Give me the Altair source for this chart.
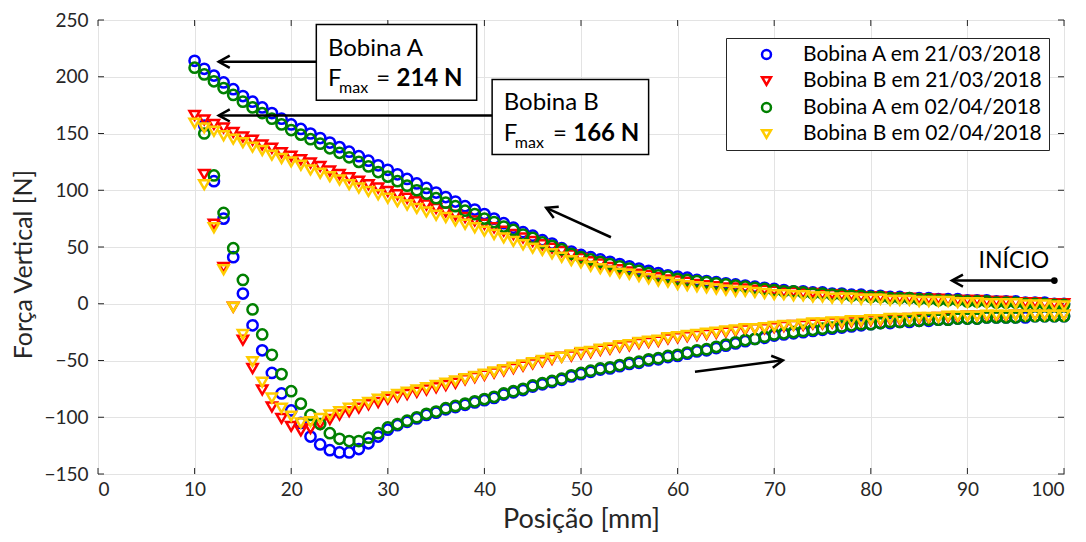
import altair as alt
import pandas as pd

# ---------------- data ----------------
series_names = ["Bobina A em 21/03/2018", "Bobina B em 21/03/2018",
                "Bobina A em 02/04/2018", "Bobina B em 02/04/2018"]
series_colors = ["#0000ff", "#ff0000", "#008000", "#ffcc00"]
series_shapes = ["circle", "triangle-down", "circle", "triangle-down"]

pos_up = list(range(10, 101))    # upper branch, travelled from 100 mm down to 10 mm
pos_low = list(range(11, 101))   # lower branch, travelled from 11 mm back to 100 mm

a1_up = [214, 207, 201, 195, 189, 183, 178, 173, 168, 163, 158,
         154, 150, 146, 142, 138, 134, 130, 126, 122, 118,
         114, 110, 106, 102, 98, 94, 90, 86, 83, 79,
         75, 71, 67, 63, 60, 56, 53, 49, 46, 43,
         41, 39, 37, 35, 33, 31, 29, 27, 25, 24,
         23, 21, 20, 19, 18, 17, 16, 15, 14, 13,
         12, 11, 11, 10, 10, 9, 9, 8, 8, 7,
         7, 6, 6, 5, 5, 5, 4, 4, 4, 3,
         3, 3, 2, 2, 2, 1, 1, 1, 0, 0]
a1_low = [157, 108, 75, 41, 9, -19, -41, -61, -79, -94,
          -105, -117, -124, -129, -131, -131, -128, -123, -117, -111,
          -107, -104, -101, -98, -96, -93, -91, -89, -87, -85,
          -83, -80, -78, -76, -73, -71, -69, -67, -64, -62,
          -60, -58, -57, -55, -53, -52, -50, -49, -47, -46,
          -44, -42, -41, -39, -37, -35, -33, -31, -30, -28,
          -27, -26, -25, -24, -23, -22, -21, -20, -19, -18,
          -17, -17, -16, -16, -15, -15, -14, -14, -13, -13,
          -13, -12, -12, -12, -12, -12, -11, -11, -11, -11]

b1_up = [166, 162, 158, 155, 151, 147, 144, 140, 137, 133, 130,
         127, 124, 121, 117, 114, 111, 108, 105, 102, 99,
         96, 93, 90, 87, 84, 81, 78, 76, 73, 70,
         67, 64, 61, 58, 55, 52, 49, 46, 43, 40,
         37, 35, 32, 30, 28, 26, 25, 23, 21, 20,
         19, 17, 16, 15, 14, 14, 13, 12, 12, 11,
         10, 10, 9, 9, 8, 8, 7, 7, 6, 6,
         6, 5, 5, 5, 4, 4, 4, 3, 3, 3,
         3, 2, 2, 2, 1, 1, 1, 0, 0, 0]
b1_low = [114, 70, 32, -3, -32, -57, -76, -91, -101, -108,
          -112, -110, -106, -102, -98, -95, -92, -89, -87, -84,
          -82, -80, -78, -76, -74, -72, -70, -67, -65, -63,
          -61, -59, -57, -55, -53, -51, -49, -47, -46, -44,
          -43, -41, -40, -38, -37, -35, -34, -33, -31, -30,
          -29, -28, -27, -26, -25, -24, -23, -22, -22, -21,
          -20, -19, -19, -18, -18, -17, -17, -16, -16, -15,
          -15, -14, -14, -13, -13, -13, -12, -12, -12, -11,
          -11, -11, -11, -11, -10, -10, -10, -10, -10, -10]

a2_up = [208, 202, 196, 190, 184, 178, 173, 168, 163, 158, 153,
         149, 145, 141, 137, 133, 129, 125, 121, 116, 112,
         108, 104, 100, 97, 93, 89, 86, 82, 79, 75,
         72, 68, 65, 61, 58, 54, 51, 48, 44, 41,
         39, 37, 35, 33, 31, 29, 27, 25, 24, 22,
         21, 20, 19, 18, 17, 16, 15, 14, 13, 12,
         11, 11, 10, 9, 9, 8, 8, 7, 7, 6,
         6, 5, 5, 5, 4, 4, 3, 3, 3, 2,
         2, 2, 1, 1, 1, 0, 0, 0, -1, -1]
a2_low = [150, 113, 80, 49, 21, -5, -27, -45, -62, -77,
          -88, -98, -106, -114, -119, -121, -121, -118, -114, -109,
          -106, -103, -100, -97, -95, -92, -90, -88, -86, -84,
          -82, -79, -77, -75, -72, -70, -68, -66, -63, -61,
          -59, -57, -56, -54, -52, -51, -49, -48, -46, -45,
          -43, -41, -40, -38, -36, -34, -32, -31, -29, -27,
          -26, -25, -24, -23, -22, -21, -20, -19, -18, -18,
          -17, -16, -16, -15, -15, -14, -14, -14, -13, -13,
          -13, -12, -12, -12, -12, -11, -11, -11, -11, -11]

b2_up = [159, 155, 152, 148, 145, 142, 138, 135, 131, 128, 125,
         122, 118, 115, 112, 109, 105, 102, 99, 96, 93,
         90, 87, 84, 81, 78, 76, 73, 70, 67, 64,
         61, 58, 55, 52, 49, 47, 44, 41, 38, 36,
         33, 31, 29, 27, 26, 24, 22, 20, 19, 17,
         16, 15, 14, 13, 12, 11, 11, 10, 9, 8,
         8, 7, 7, 6, 6, 5, 5, 5, 4, 4,
         4, 3, 3, 3, 2, 2, 2, 2, 1, 1,
         1, 0, 0, 0, 0, -1, -1, -1, -2, -2]
b2_low = [105, 67, 30, -3, -27, -51, -69, -83, -92, -99,
          -105, -104, -101, -98, -95, -92, -89, -87, -84, -82,
          -80, -78, -76, -74, -72, -70, -68, -66, -64, -62,
          -60, -58, -56, -54, -52, -50, -48, -47, -45, -43,
          -42, -40, -39, -37, -36, -34, -33, -32, -30, -29,
          -28, -27, -26, -25, -24, -23, -22, -22, -21, -20,
          -19, -19, -18, -17, -17, -16, -16, -15, -15, -14,
          -14, -13, -13, -13, -12, -12, -12, -11, -11, -11,
          -11, -10, -10, -10, -10, -10, -10, -10, -10, -10]

x_ticks = [0, 10, 20, 30, 40, 50, 60, 70, 80, 90, 100]
y_ticks = [-150, -100, -50, 0, 50, 100, 150, 200, 250]

# annotation boxes (data coordinates)
box_x1 = [22.6, 40.8]
box_x2 = [39.2, 57.0]
box_y1 = [246.0, 197.5]
box_y2 = [179.3, 131.5]

# arrows: tail -> tip
arr_x1 = [22.6, 40.8, 53.1, 61.8, 99.0]
arr_y1 = [213.2, 165.9, 58.6, -60.0, 20.4]
arr_x2 = [12.5, 12.5, 46.4, 70.9, 88.4]
arr_y2 = [213.2, 165.9, 84.5, -49.8, 20.4]
arr_ang = [0, 0, 24.3, 172.5, 0]

# ---------------- build table ----------------
rows = []
idx = 0
for name, up, low in zip(series_names, [a1_up, b1_up, a2_up, b2_up],
                         [a1_low, b1_low, a2_low, b2_low]):
    for p, v in zip(pos_up, up):
        rows.append({"serie": name, "pos": p, "forca": v, "idx": idx}); idx += 1
    for p, v in zip(pos_low, low):
        rows.append({"serie": name, "pos": p, "forca": v, "idx": idx}); idx += 1
df = pd.DataFrame(rows)

W, H = 966, 454
FONT = "Lato"
TXT = "#262626"

xscale = alt.Scale(domain=[0, 100], nice=False, zero=False)
yscale = alt.Scale(domain=[-150, 250], nice=False, zero=False)

points = alt.Chart(df).mark_point(filled=False, size=105, strokeWidth=2.5, opacity=1).encode(
    x=alt.X("pos:Q", scale=xscale,
            axis=alt.Axis(values=x_ticks, title="Posição [mm]", grid=True, ticks=False,
                          domain=False, labelPadding=6, format="d",
                          titleFontSize=27, titleBaseline="alphabetic", titleY=53)),
    y=alt.Y("forca:Q", scale=yscale,
            axis=alt.Axis(values=y_ticks, title="Força Vertical [N]", grid=True, ticks=False,
                          domain=False, labelPadding=10, format="d",
                          titleFontSize=25, titleBaseline="middle", titleAlign="center",
                          titleX=-75, titleY=244)),
    color=alt.Color("serie:N", scale=alt.Scale(domain=series_names, range=series_colors),
                    legend=alt.Legend(title=None, orient="none", legendX=628, legendY=18)),
    shape=alt.Shape("serie:N", scale=alt.Scale(domain=series_names, range=series_shapes),
                    legend=alt.Legend(title=None, orient="none", legendX=628, legendY=18)),
    order=alt.Order("idx:Q"),
)

tick_df = pd.DataFrame({"t": x_ticks})
ytick_df = pd.DataFrame({"t": y_ticks})
tick_col = "#262626"
ticks_bottom = alt.Chart(tick_df).mark_rule(color=tick_col, strokeWidth=1).encode(
    x=alt.X("t:Q", scale=xscale), y=alt.value(H), y2=alt.value(H - 6))
ticks_top = alt.Chart(tick_df).mark_rule(color=tick_col, strokeWidth=1).encode(
    x=alt.X("t:Q", scale=xscale), y=alt.value(0), y2=alt.value(6))
ticks_left = alt.Chart(ytick_df).mark_rule(color=tick_col, strokeWidth=1).encode(
    y=alt.Y("t:Q", scale=yscale), x=alt.value(0), x2=alt.value(6))
ticks_right = alt.Chart(ytick_df).mark_rule(color=tick_col, strokeWidth=1).encode(
    y=alt.Y("t:Q", scale=yscale), x=alt.value(W), x2=alt.value(W - 6))

box_df = pd.DataFrame({"x1": box_x1, "x2": box_x2, "y1": box_y1, "y2": box_y2})
boxes = alt.Chart(box_df).mark_rect(fill="white", stroke="black", strokeWidth=1.5).encode(
    x=alt.X("x1:Q", scale=xscale), x2="x2:Q",
    y=alt.Y("y1:Q", scale=yscale), y2="y2:Q")

arr_df = pd.DataFrame({"x1": arr_x1, "y1": arr_y1, "x2": arr_x2, "y2": arr_y2, "ang": arr_ang})
shafts = alt.Chart(arr_df).mark_rule(color="black", strokeWidth=2.5).encode(
    x=alt.X("x1:Q", scale=xscale), x2="x2:Q",
    y=alt.Y("y1:Q", scale=yscale), y2="y2:Q")
heads = alt.Chart(arr_df).mark_point(
    shape="M 1 -0.55 L 0 0 L 1 0.55", size=484, filled=False, color="black",
    strokeWidth=2.5, opacity=1).encode(
    x=alt.X("x2:Q", scale=xscale), y=alt.Y("y2:Q", scale=yscale),
    angle=alt.Angle("ang:Q", scale=None))

dot_df = pd.DataFrame({"x": [arr_x1[4]], "y": [arr_y1[4]]})
dot = alt.Chart(dot_df).mark_point(filled=True, size=45, color="black", opacity=1).encode(
    x=alt.X("x:Q", scale=xscale), y=alt.Y("y:Q", scale=yscale))

# annotation texts
lab_txt = ["Bobina A", "F", "=", "Bobina B", "F", "=", "INÍCIO"]
lab_x = [23.8, 23.8, 28.8, 42.0, 42.0, 47.1, 94.8]
lab_y = [218.7, 191.7, 191.7, 171.1, 143.2, 143.2, 31.6]
sub_txt = ["max", "max"]
sub_x = [24.95, 43.15]
sub_y = [185.9, 137.4]
bold_txt = ["214 N", "166 N"]
bold_x = [30.9, 49.2]
bold_y = [191.7, 143.2]

def texts(txt, xs, ys, size, weight="normal", align="left"):
    d = pd.DataFrame({"t": txt, "x": xs, "y": ys})
    return alt.Chart(d).mark_text(align=align, baseline="alphabetic", font=FONT,
                                  fontSize=size, fontWeight=weight, color="black").encode(
        x=alt.X("x:Q", scale=xscale), y=alt.Y("y:Q", scale=yscale), text="t:N")

t_main = texts(lab_txt[:6], lab_x[:6], lab_y[:6], 24)
t_inicio = texts(lab_txt[6:], lab_x[6:], lab_y[6:], 23, align="center")
t_sub = texts(sub_txt, sub_x, sub_y, 16)
t_bold = texts(bold_txt, bold_x, bold_y, 24, weight="bold")

chart = alt.layer(
    ticks_bottom, ticks_top, ticks_left, ticks_right,
    points, boxes, shafts, heads, dot, t_main, t_inicio, t_sub, t_bold
).properties(
    width=W, height=H,
    padding={"left": 90, "top": 12, "right": 14, "bottom": 60},
    autosize=alt.AutoSizeParams(type="none"),
).configure_view(
    stroke=TXT, strokeWidth=1
).configure_axis(
    labelFont=FONT, labelFontSize=19, labelColor=TXT,
    titleFont=FONT, titleColor=TXT, titleFontWeight="normal",
    gridColor="#e3e3e3", gridWidth=1,
).configure_legend(
    padding=6, strokeColor=TXT, fillColor="white", labelFont=FONT, labelFontSize=21,
    labelColor="black", labelLimit=0, symbolSize=80, symbolStrokeWidth=2.5, rowPadding=4.5,
    symbolOffset=24, labelOffset=26, cornerRadius=0,
)

chart.save("out.html", embed_options={"renderer": "svg", "actions": False})
